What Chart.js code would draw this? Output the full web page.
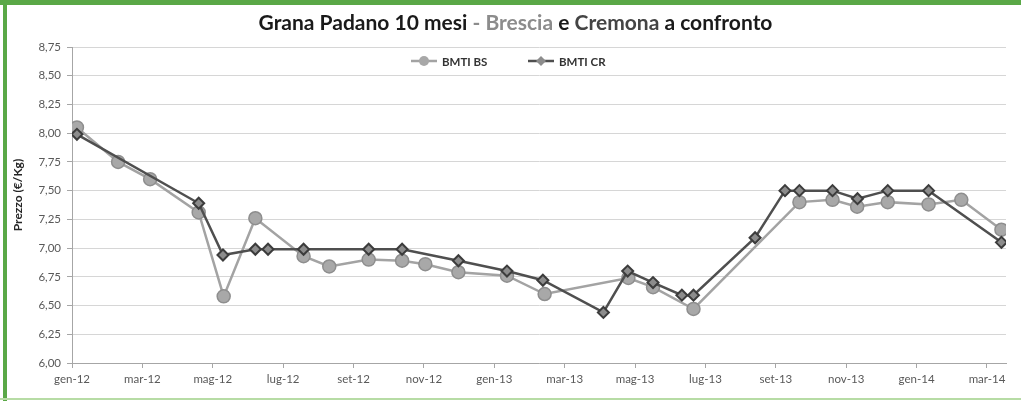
<!DOCTYPE html>
<html>
<head>
<meta charset="utf-8">
<script src="https://cdn.jsdelivr.net/npm/chart.js@4/dist/chart.umd.min.js"></script>
<style>
  body { margin: 0; background: #fff; }
  #wrap { position: relative; width: 1021px; height: 401px; overflow: hidden; }
  #myChart { position: absolute; left: 0; top: 0; }
  .bar { position: absolute; }
  #title {
    position: absolute; left: 5px; top: 10px; width: 1021px; text-align: center;
    font-family: Lato, sans-serif; font-weight: bold; font-size: 21px; line-height: 24px; color: #1a1a1a;
  }
</style>
</head>
<body>
<div id="wrap">
  <canvas id="myChart" width="1021" height="401"></canvas>
  <div id="title">Grana Padano 10 mesi <span style="color:#8c8c8c">- Brescia</span> e <span style="color:#444">Cremona</span> a confronto</div>
  <div class="bar" style="left:0;top:0;width:1021px;height:5px;background:#5aa847"></div>
  <div class="bar" style="left:3px;top:0;width:4px;height:401px;background:#5aa847"></div>
  <div class="bar" style="left:0;top:398px;width:1021px;height:2px;background:#b7dca5"></div>
</div>
<script>
// month index: 0 = gen-12
var tickLabels = ['gen-12', 'mar-12', 'mag-12', 'lug-12', 'set-12', 'nov-12', 'gen-13',
  'mar-13', 'mag-13', 'lug-13', 'set-13', 'nov-13', 'gen-14', 'mar-14'];

var bsMonths = [0.14, 1.31, 2.22, 3.60, 4.31, 5.21, 6.58, 7.31, 8.43, 9.38, 10.04, 10.98,
  12.36, 13.43, 15.81, 16.51, 17.66, 20.67, 21.61, 22.31, 23.18, 24.34, 25.27, 26.41];
var bsValues = [8.05, 7.75, 7.60, 7.31, 6.58, 7.26, 6.93, 6.84, 6.90, 6.89, 6.86, 6.79,
  6.76, 6.60, 6.74, 6.66, 6.47, 7.40, 7.42, 7.36, 7.40, 7.38, 7.42, 7.16];

var crMonths = [0.14, 3.60, 4.29, 5.21, 5.57, 6.58, 8.43, 9.38, 10.98, 12.36, 13.38, 15.10,
  15.79, 16.51, 17.33, 17.66, 19.41, 20.26, 20.67, 21.61, 22.32, 23.18, 24.34, 26.41];
var crValues = [7.99, 7.39, 6.94, 6.99, 6.99, 6.99, 6.99, 6.99, 6.89, 6.80, 6.72, 6.44,
  6.80, 6.70, 6.59, 6.59, 7.09, 7.50, 7.50, 7.50, 7.43, 7.50, 7.50, 7.05];

var yTitle = 'Prezzo (€/Kg)';

function toPoints(xs, ys) {
  return xs.map(function (x, i) { return { x: x, y: ys[i] }; });
}

// legend drawn inside the plot area, like the original, plus the y title
var innerLegend = {
  id: 'innerLegend',
  afterDatasetsDraw: function (chart) {
    var ctx = chart.ctx;
    var y = 61;
    var starts = [411, 528];
    ctx.save();
    chart.data.datasets.forEach(function (ds, i) {
      var x0 = starts[i];
      ctx.strokeStyle = ds.borderColor;
      ctx.lineWidth = 2.5;
      ctx.beginPath();
      ctx.moveTo(x0, y);
      ctx.lineTo(x0 + 26, y);
      ctx.stroke();
      ctx.fillStyle = ds.pointBackgroundColor;
      ctx.strokeStyle = ds.pointBorderColor;
      ctx.lineWidth = ds.pointBorderWidth;
      Chart.helpers.drawPoint(ctx, { pointStyle: ds.pointStyle, radius: 5, rotation: 0 }, x0 + 13, y);
      ctx.fillStyle = '#333';
      ctx.font = 'bold 11.5px Lato, sans-serif';
      ctx.textBaseline = 'middle';
      ctx.fillText(ds.label, x0 + 31, y + 1);
    });

    ctx.translate(18, 195);
    ctx.rotate(-Math.PI / 2);
    ctx.font = 'bold 12px Lato, sans-serif';
    ctx.fillStyle = '#262626';
    ctx.textAlign = 'center';
    ctx.textBaseline = 'middle';
    ctx.fillText(yTitle, 0, 0);
    ctx.restore();
  },
};

var ctx = document.getElementById('myChart').getContext('2d');
var myChart = new Chart(ctx, {
  type: 'line',
  data: {
    datasets: [
      {
        label: 'BMTI BS',
        data: toPoints(bsMonths, bsValues),
        borderColor: '#a3a3a3',
        borderWidth: 2.5,
        pointStyle: 'circle',
        pointRadius: 6.5,
        pointBackgroundColor: '#a8a8a8',
        pointBorderColor: '#8e8e8e',
        pointBorderWidth: 1.5,
        order: 2,
      },
      {
        label: 'BMTI CR',
        data: toPoints(crMonths, crValues),
        borderColor: '#4f4f4f',
        borderWidth: 2.5,
        pointStyle: 'rectRot',
        pointRadius: 5.5,
        pointBackgroundColor: '#8c8c8c',
        pointBorderColor: '#3c3c3c',
        pointBorderWidth: 2,
        order: 1,
      },
    ],
  },
  options: {
    responsive: false,
    animation: false,
    events: [],
    layout: { padding: { left: 0, right: 15, top: 47, bottom: 0 } },
    plugins: {
      legend: { display: false },
      tooltip: { enabled: false },
    },
    scales: {
      x: {
        type: 'linear',
        min: 0,
        max: 26.54,
        afterBuildTicks: function (scale) {
          scale.ticks = tickLabels.map(function (l, i) { return { value: i * 2 }; });
        },
        afterFit: function (scale) { scale.height = 38; },
        ticks: {
          autoSkip: false,
          maxRotation: 0,
          padding: 4,
          color: '#595959',
          font: { family: 'Lato', size: 11.5 },
          callback: function (v) { return tickLabels[Math.round(v / 2)]; },
        },
        grid: { drawOnChartArea: false, drawTicks: true, tickLength: 5, color: '#a6a6a6' },
        border: { color: '#a6a6a6', width: 1 },
      },
      y: {
        min: 6,
        max: 8.75,
        afterFit: function (scale) { scale.width = 72; },
        ticks: {
          stepSize: 0.25,
          padding: 6,
          color: '#595959',
          font: { family: 'Lato', size: 11.5 },
          callback: function (v) { return v.toFixed(2).replace('.', ','); },
        },
        grid: { color: '#d6d6d6', lineWidth: 1, drawTicks: true, tickLength: 5, tickColor: '#a6a6a6' },
        border: { color: '#a6a6a6', width: 1 },
      },
    },
  },
  plugins: [innerLegend],
});
</script>
</body>
</html>
